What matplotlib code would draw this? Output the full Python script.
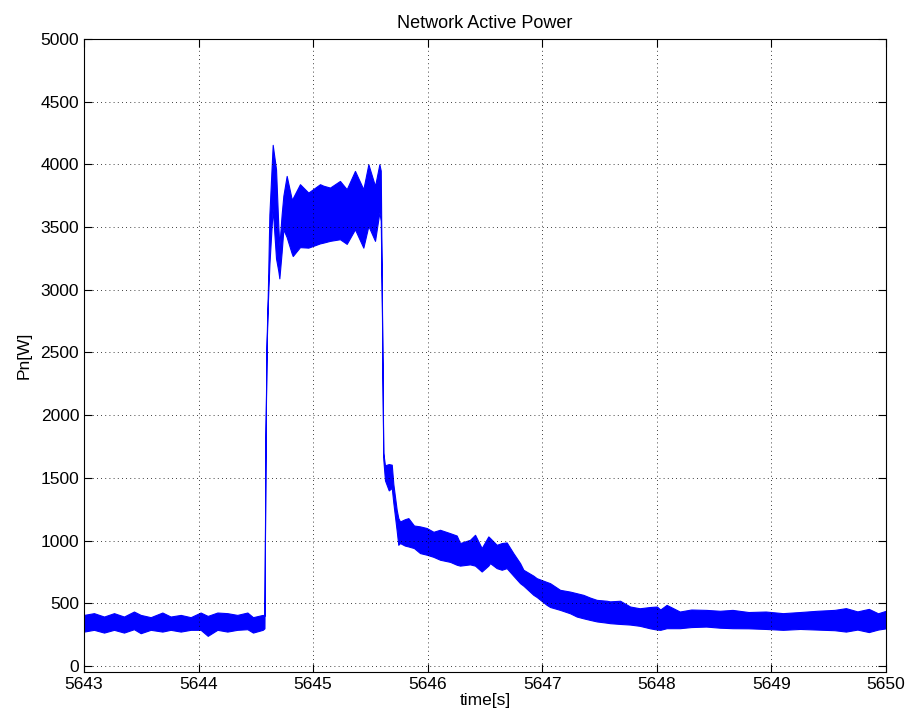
import matplotlib
matplotlib.use("Agg")
from matplotlib import pyplot as plt

plt.rcParams['font.family'] = ['Liberation Sans', 'DejaVu Sans']

# envelope of the (dense, oscillating) power signal
t = [5643.000, 5643.087, 5643.175, 5643.262, 5643.349, 5643.436, 5643.495,
     5643.582, 5643.684, 5643.756, 5643.844, 5643.931, 5644.018, 5644.080,
     5644.164, 5644.251, 5644.338, 5644.426, 5644.475, 5644.560,
     5644.575, 5644.585, 5644.594, 5644.605, 5644.618, 5644.647, 5644.676,
     5644.696, 5644.705, 5644.725, 5644.740, 5644.769, 5644.813, 5644.822,
     5644.885, 5644.958, 5645.060, 5645.089, 5645.147, 5645.234, 5645.293,
     5645.365, 5645.438, 5645.482, 5645.540, 5645.578, 5645.590, 5645.600,
     5645.612, 5645.627, 5645.660, 5645.686, 5645.700, 5645.729, 5645.743,
     5645.758, 5645.800, 5645.831, 5645.880, 5645.933, 5645.991, 5646.050,
     5646.107, 5646.195, 5646.253, 5646.282, 5646.369, 5646.413, 5646.471,
     5646.529, 5646.544, 5646.602, 5646.646, 5646.689, 5646.747, 5646.806,
     5646.835, 5646.922, 5646.951, 5647.038, 5647.068, 5647.155, 5647.242,
     5647.300, 5647.358, 5647.417, 5647.475, 5647.562, 5647.591, 5647.679,
     5647.766, 5647.850, 5647.940, 5648.000, 5648.030, 5648.085, 5648.200,
     5648.300, 5648.430, 5648.550, 5648.660, 5648.800, 5648.950, 5649.100,
     5649.250, 5649.400, 5649.550, 5649.650, 5649.750, 5649.850, 5649.930,
     5650.000]

p_upper = [407, 421, 394, 421, 394, 434, 407,
           389, 426, 394, 407, 389, 426, 399,
           426, 421, 407, 426, 389, 407,
           400, 1900, 2600, 3000, 3600, 4156, 3962,
           3509, 3350, 3600, 3750, 3908, 3722, 3730,
           3842, 3775, 3842, 3830, 3815, 3868, 3802,
           3948, 3802, 4001, 3828, 4001, 3950, 2923,
           1700, 1600, 1610, 1605, 1450, 1246, 1180,
           1152, 1170, 1179, 1120, 1113, 1100, 1070,
           1086, 1059, 1040, 980, 1006, 1046, 940,
           1033, 1020, 966, 980, 985, 900, 820,
           767, 720, 700, 670, 660, 607, 593,
           580, 567, 545, 527, 520, 515, 520,
           474, 460, 470, 474, 450, 487, 434,
           450, 447, 440, 447, 430, 434, 421,
           430, 440, 447, 461, 435, 455, 420,
           440]

p_lower = [274, 288, 266, 288, 266, 293, 261,
           288, 274, 288, 274, 288, 288, 240,
           288, 274, 288, 293, 266, 288,
           300, 1850, 2550, 2900, 3200, 3650, 3250,
           3150, 3091, 3300, 3482, 3420, 3290, 3269,
           3340, 3336, 3370, 3376, 3390, 3403, 3366,
           3482, 3336, 3509, 3390, 3618, 3550, 2850,
           1650, 1480, 1400, 1420, 1300, 1080, 966,
           980, 960, 953, 940, 900, 887, 870,
           847, 830, 807, 800, 810, 800, 753,
           800, 820, 780, 767, 780, 720, 660,
           640, 567, 550, 487, 470, 447, 420,
           394, 380, 367, 355, 345, 341, 335,
           330, 320, 300, 290, 288, 301, 301,
           310, 314, 305, 301, 300, 295, 288,
           295, 290, 285, 274, 290, 270, 290,
           300]

x_ticks = [5643, 5644, 5645, 5646, 5647, 5648, 5649, 5650]
y_ticks = list(range(0, 5001, 500))

fig = plt.figure(figsize=(9.11, 7.22), dpi=100)
ax = fig.add_axes([0.0922, 0.0693, 0.8804, 0.8767])

ax.fill_between(t, p_lower, p_upper, color=(0, 0, 1), linewidth=0.8)

ax.set_xlim(5643, 5650)
ax.set_ylim(-48, 5000)
ax.set_xticks(x_ticks)
ax.set_yticks(y_ticks)
ax.grid(True, color='black', linestyle=(0, (1, 4)), linewidth=0.6)
ax.tick_params(direction='in', length=6, top=True, right=True, labelsize=12.5)
for s in ax.spines.values():
    s.set_linewidth(0.8)

ax.set_title("Network Active Power", fontsize=13, pad=8)
ax.set_xlabel("time[s]", fontsize=12.5, labelpad=1)
ax.set_ylabel("Pn[W]", fontsize=12.5, labelpad=6)

fig.savefig("out.png", dpi=100)
